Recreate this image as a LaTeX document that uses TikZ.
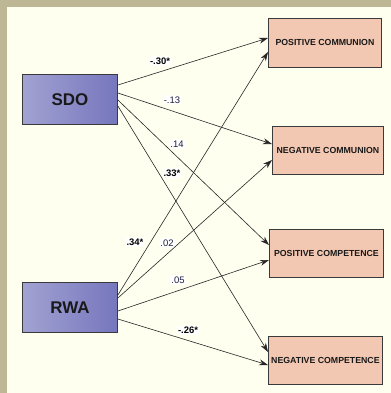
\documentclass[tikz,border=0pt]{standalone}
\usepackage{fontspec}
\setmainfont{Liberation Sans}
\usetikzlibrary{arrows.meta}
\definecolor{frame}{HTML}{BDB795}
\definecolor{bg}{HTML}{FFFFF0}
\definecolor{pinkbox}{HTML}{F3C8B2}
\definecolor{purL}{HTML}{A2A2D2}
\definecolor{purR}{HTML}{7676BE}
\definecolor{edgegray}{HTML}{3A3A3A}
\definecolor{coeftext}{HTML}{1E1E3C}
\tikzset{
  pred/.style={draw=edgegray, line width=0.9pt, left color=purL, right color=purR, minimum width=95bp, minimum height=50bp, inner sep=0pt, font=\fontsize{17}{17}\selectfont\bfseries, text=black!90},
  outc/.style={draw=edgegray, line width=0.9pt, fill=pinkbox, minimum height=49bp, inner sep=0pt, font=\fontsize{8.8}{8.8}\selectfont\bfseries, text=black!90},
  path/.style={draw=black!85, line width=0.6pt, -{Stealth[length=9bp,width=6bp]}},
  coef/.style={fill=white, inner sep=1.2pt, rounded corners=2pt, font=\fontsize{9.5}{9.5}\selectfont, text=coeftext},
  coefb/.style={coef, font=\fontsize{9.5}{9.5}\selectfont\bfseries, text=black}
}
\begin{document}
\begin{tikzpicture}[x=1bp,y=-1bp]
\useasboundingbox (0,0) rectangle (391,393);
\fill[frame] (0,0) rectangle (391,393);
\fill[bg] (7,7) rectangle (391,393);
% predictors
\node[pred, anchor=north west] (sdo) at (22,74) {SDO};
\node[pred, anchor=north west] (rwa) at (22,282) {RWA};
% outcomes
\node[outc, minimum width=113bp, anchor=north west] (pc) at (268,18) {POSITIVE COMMUNION};
\node[outc, minimum width=111bp, minimum height=48bp, anchor=north west] (nc) at (272,126) {NEGATIVE COMMUNION};
\node[outc, minimum width=114bp, minimum height=48bp, anchor=north west] (pk) at (269,229) {POSITIVE COMPETENCE};
\node[outc, minimum width=114bp, minimum height=48bp, anchor=north west] (nk) at (268,336) {NEGATIVE COMPETENCE};
% coefficient labels (drawn first so lines pass over the white blobs)
\node[coefb] at (160,61) {-.30*};
\node[coef] at (172,100) {-.13};
\node[coef] at (177,144) {.14};
\node[coefb] at (172,173) {.33*};
\node[coefb] at (135,242) {.34*};
\node[coef] at (167,243) {.02};
\node[coef] at (178,280) {.05};
\node[coefb] at (188,330) {-.26*};
% paths from SDO
\path[path] ([yshift=-11bp]sdo.north east) -- ([yshift=-20bp]pc.north west);
\path[path] ([yshift=-19bp]sdo.north east) -- ([yshift=-18bp]nc.north west);
\path[path] ([yshift=-26bp]sdo.north east) -- ([yshift=-16bp]pk.north west);
\path[path] ([yshift=-32bp]sdo.north east) -- ([yshift=-16bp]nk.north west);
% paths from RWA
\path[path] ([yshift=-13bp]rwa.north east) -- ([yshift=-34bp]pc.north west);
\path[path] ([yshift=-16bp]rwa.north east) -- ([yshift=-34bp]nc.north west);
\path[path] ([yshift=-29bp]rwa.north east) -- ([yshift=-31bp]pk.north west);
\path[path] ([yshift=-37bp]rwa.north east) -- ([yshift=-29bp]nk.north west);
\end{tikzpicture}
\end{document}
